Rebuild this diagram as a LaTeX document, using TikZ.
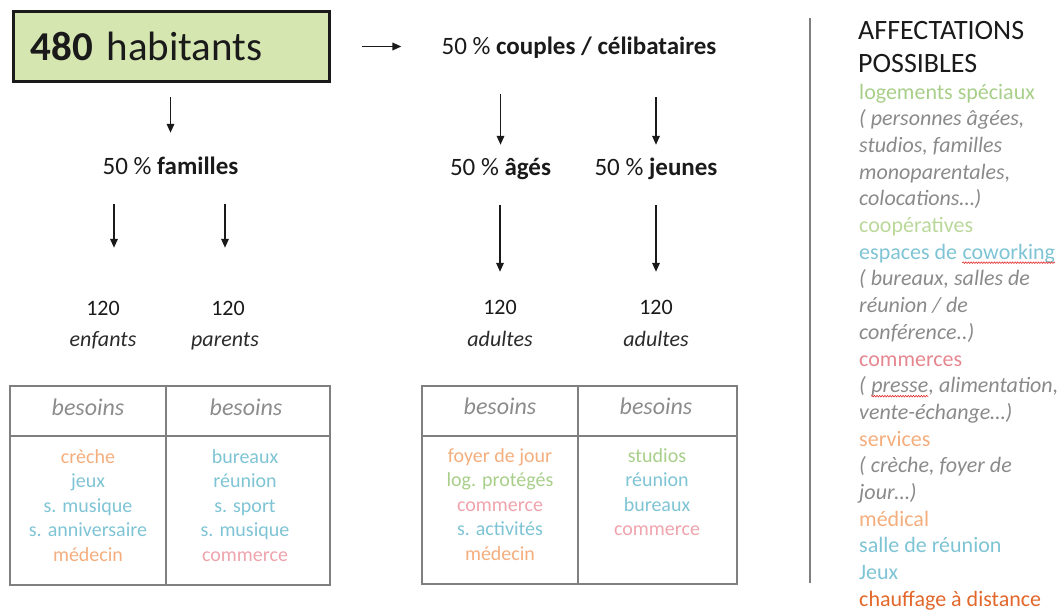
\documentclass[tikz,border=0pt]{standalone}
\usepackage{fontspec}
\setmainfont{Carlito}
\usetikzlibrary{arrows.meta,decorations.pathmorphing}
\definecolor{ink}{HTML}{1A1A1A}
\definecolor{ink2}{HTML}{2B2B2B}
\definecolor{boxgreen}{HTML}{D5E6B1}
\definecolor{cgreen}{HTML}{A8CF8A}
\definecolor{cgreenB}{HTML}{BAD89A}
\definecolor{corange}{HTML}{F4AE7E}
\definecolor{cblue}{HTML}{7EC4D4}
\definecolor{cpink}{HTML}{EFA3AC}
\definecolor{cpinkR}{HTML}{E68790}
\definecolor{igray}{HTML}{8A8A8A}
\definecolor{hgray}{HTML}{8C8C8C}
\definecolor{tgray}{HTML}{7F7F7F}
\definecolor{chauf}{HTML}{E2672A}
\definecolor{wred}{HTML}{E03030}
\begin{document}
\begin{tikzpicture}[x=1pt,y=-1pt,
  lbl/.style={inner sep=0pt, text=ink, font=\fontsize{25}{30}\selectfont, text height=18pt, text depth=6pt, anchor=base},
  num/.style={inner sep=0pt, text=ink, font=\fontsize{22}{26}\selectfont, text height=16pt, text depth=5pt, anchor=base},
  who/.style={inner sep=0pt, text=ink2, font=\fontsize{22}{26}\selectfont\itshape, anchor=base},
  arr/.style={draw=ink, line width=1.8pt, -{Triangle[length=9pt,width=7.5pt]}},
  tbl/.style={draw=tgray, line width=2pt},
  head/.style={inner sep=0pt, text=hgray, font=\fontsize{24}{28}\selectfont\itshape, anchor=base},
  item/.style={inner sep=0pt, font=\fontsize{20}{24}\selectfont, anchor=base},
  rl/.style={inner sep=0pt, anchor=base west, font=\fontsize{22}{26}\selectfont},
  rg/.style={rl, text=igray, font=\fontsize{22}{26}\selectfont\itshape},
  sep/.style={draw=tgray, line width=2.2pt},
  wave/.style={draw=wred, line width=0.6pt, decorate, decoration={snake, amplitude=0.8pt, segment length=2.6pt}}]
\useasboundingbox (0,0) rectangle (1062,610);

% title box
\node[draw=ink, line width=3pt, fill=boxgreen, minimum width=316pt, minimum height=70pt,
      anchor=north west, text width=282pt, align=left, inner xsep=17pt, inner ysep=0pt,
      font=\fontsize{41}{48}\selectfont, text=ink] (pop) at (12,10) {\textbf{480} habitants};

% labels
\node[lbl] (couples) at (579,55) {50 \% \textbf{couples / célibataires}};
\node[lbl] (familles) at (170.5,174) {50 \% \textbf{familles}};
\node[lbl] (ages) at (500.5,175) {50 \% \textbf{âgés}};
\node[lbl] (jeunes) at (656,175) {50 \% \textbf{jeunes}};

\node[num] (n1) at (103,315) {120};
\node[who] (w1) at (103,346) {enfants};
\node[num] (n2) at (228,315) {120};
\node[who] (w2) at (225,346) {parents};
\node[num] (n3) at (500,314) {120};
\node[who] (w3) at (500,346) {adultes};
\node[num] (n4) at (656,314) {120};
\node[who] (w4) at (656,346) {adultes};

% arrows
\draw[arr, shorten <=31pt, shorten >=40pt] (pop.east) -- (pop.east -| couples.west);
\draw[arr, shorten <=14pt, shorten >=23pt] (pop.south -| familles.north) -- (familles.north);
\draw[arr, shorten <=24pt, shorten >=51pt] ([xshift=11pt]n1.north |- familles.south) -- ([xshift=11pt]n1.north);
\draw[arr, shorten <=24pt, shorten >=51pt] ([xshift=-3pt]n2.north |- familles.south) -- ([xshift=-3pt]n2.north);
\draw[arr, shorten <=33pt, shorten >=12pt] (ages.north |- couples.south) -- (ages.north);
\draw[arr, shorten <=36pt, shorten >=12pt] (jeunes.north |- couples.south) -- (jeunes.north);
\draw[arr, shorten <=24pt, shorten >=26pt] (n3.north |- ages.south) -- (n3.north);
\draw[arr, shorten <=24pt, shorten >=26pt] (jeunes.south) -- (n4.north);

% tables
\draw[tbl] (10,386) rectangle (330,585);
\draw[tbl] (166,386) -- (166,585);
\draw[tbl] (10,436) -- (330,436);
\draw[tbl] (422,386) rectangle (737,584);
\draw[tbl] (578,386) -- (578,584);
\draw[tbl] (422,436) -- (737,436);

\node[head] (h1) at (88,415) {besoins};
\node[head] (h2) at (246,415) {besoins};
\node[head] (h3) at (500,414) {besoins};
\node[head] (h4) at (656,414) {besoins};

\foreach \t/\c [count=\i] in {crèche/corange, jeux/cblue, s. musique/cblue, s. anniversaire/cblue, médecin/corange}
  \node[item, text=\c] (a\i) at (88, {438.5+24.5*\i}) {\t};
\foreach \t/\c [count=\i] in {bureaux/cblue, réunion/cblue, s. sport/cblue, s. musique/cblue, commerce/cpink}
  \node[item, text=\c] (b\i) at (245, {438.5+24.5*\i}) {\t};
\foreach \t/\c [count=\i] in {foyer de jour/corange, log. protégés/cgreen, commerce/cpink, s. activités/cblue, médecin/corange}
  \node[item, text=\c] (c\i) at (500, {437.5+24.5*\i}) {\t};
\foreach \t/\c [count=\i] in {studios/cgreen, réunion/cblue, bureaux/cblue, commerce/cpink}
  \node[item, text=\c] (d\i) at (657, {437.5+24.5*\i}) {\t};

% right column
\draw[sep] (810,18) -- (810,583);
\node[rl, text=ink, font=\fontsize{28}{32}\selectfont] (aff1) at (858,40) {AFFECTATIONS};
\node[rl, text=ink, font=\fontsize{28}{32}\selectfont] (aff2) at (858,72) {POSSIBLES};
\node[rl, text=cgreen] (r1) at (859,99) {logements spéciaux};
\node[rg] (r2) at (859,125.7) {( personnes âgées,};
\node[rg] (r3) at (859,152.4) {studios, familles};
\node[rg] (r4) at (859,179.1) {monoparentales,};
\node[rg] (r5) at (859,205.8) {colocations…)};
\node[rl, text=cgreenB] (r6) at (859,232.5) {coopératives};
\node[rl, text=cblue] (r7) at (859,259.2) {espaces de};
\node[rl, text=cblue] (r7b) at ([xshift=5pt]r7.base east) {coworking};
\node[rg] (r8) at (859,285.9) {( bureaux, salles de};
\node[rg] (r9) at (859,312.6) {réunion / de};
\node[rg] (r10) at (859,339.3) {conférence..)};
\node[rl, text=cpinkR] (r11) at (859,366) {commerces};
\node[rg] (r12) at (859,392.7) {(};
\node[rg] (r12b) at ([xshift=5pt]r12.base east) {presse};
\node[rg] (r12c) at (r12b.base east) {, alimentation,};
\node[rg] (r13) at (859,419.4) {vente-échange…)};
\node[rl, text=corange] (r14) at (859,446.1) {services};
\node[rg] (r15) at (859,472.8) {( crèche, foyer de};
\node[rg] (r16) at (859,499.5) {jour…)};
\node[rl, text=corange] (r17) at (859,526.2) {médical};
\node[rl, text=cblue] (r18) at (859,552.9) {salle de réunion};
\node[rl, text=cblue] (r19) at (859,579.6) {Jeux};
\node[rl, text=chauf] (r20) at (859,606.3) {chauffage à distance};

\draw[wave] ([yshift=-3.5pt]r7b.base west) -- ([yshift=-3.5pt]r7b.base east);
\draw[wave] ([yshift=-3.5pt]r12b.base west) -- ([yshift=-3.5pt]r12b.base east);
\end{tikzpicture}
\end{document}
